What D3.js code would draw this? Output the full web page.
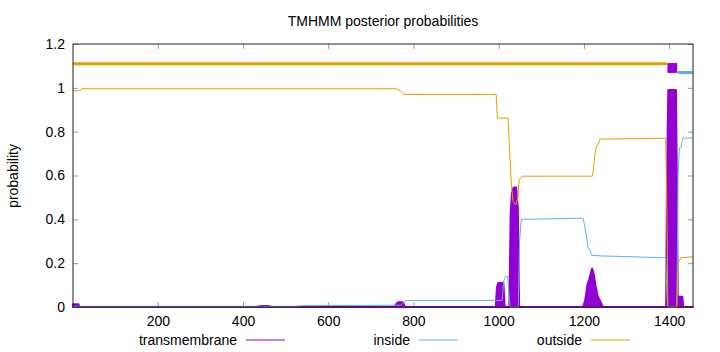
<!DOCTYPE html>
<html><head><meta charset="utf-8">
<script src="https://cdn.jsdelivr.net/npm/d3@7"></script>
<style>body{margin:0;background:#fff}svg{display:block}text{font-family:"Liberation Sans",Arial,sans-serif}</style>
</head><body>
<svg id="c" width="720" height="352"></svg>
<script>
// ---- data ----
const seqLength = 1456;
const xTicks = [200, 400, 600, 800, 1000, 1200, 1400];
const yTicks = [0, 0.2, 0.4, 0.6, 0.8, 1, 1.2];
const seriesNames = ["transmembrane", "inside", "outside"];
// transmembrane posterior [position, probability]
const tmPos = [1,14,16,430,440,460,470,755,760,765,775,780,993,996,999,1011,1014,1025,1028,1031,1035,1041,1045,1048,1198,1203,1208,1213,1219,1223,1227,1232,1240,1244,1393,1395,1398,1416,1418,1420,1431,1433,1456];
const tmVal = [0.012,0.012,0,0,0.004,0.004,0,0,0.015,0.022,0.022,0,0,0.09,0.11,0.11,0,0,0.42,0.52,0.545,0.545,0.45,0,0,0.03,0.1,0.13,0.175,0.15,0.1,0.05,0.02,0,0,0.6,0.99,0.99,0.6,0.047,0.047,0,0];
// inside posterior
const inPos = [1,520,540,770,776,782,1008,1012,1016,1021,1024,1027,1046,1049,1053,1198,1203,1210,1214,1218,1240,1392,1395,1397,1418,1421,1424,1428,1432,1456];
const inVal = [0.003,0.003,0.006,0.008,0.02,0.03,0.03,0.12,0.14,0.14,0.06,0,0,0.3,0.4,0.405,0.36,0.27,0.26,0.236,0.233,0.225,0.05,0,0,0.6,0.726,0.73,0.77,0.772];
// outside posterior
const outPos = [1,18,21,760,770,778,994,997,1022,1026,1030,1034,1040,1045,1048,1055,1220,1222,1226,1229,1233,1238,1392,1395,1397,1418,1421,1428,1456];
const outVal = [0.987,0.987,0.996,0.996,0.985,0.97,0.97,0.862,0.862,0.7,0.55,0.48,0.465,0.5,0.58,0.597,0.597,0.62,0.7,0.73,0.74,0.766,0.77,0.4,0,0,0.2,0.225,0.229];
// predicted topology (segments)
const topoType = ["outside", "TMhelix", "inside"];
const topoStart = [1, 1396, 1420];
const topoEnd = [1395, 1419, 1456];

const colors = {transmembrane:"#9400d3", inside:"#56b4e9", outside:"#e69f00"};
const svg = d3.select("#c");
const L = 73, R = 693, T = 44, B = 307;
const x = d3.scaleLinear().domain([1, seqLength]).range([L, R]);
const y = d3.scaleLinear().domain([0, 1.2]).range([B, T]);

// title
svg.append("text").attr("x", 383).attr("y", 26).attr("text-anchor","middle").attr("font-size",14).text("TMHMM posterior probabilities");
svg.append("text").attr("transform","translate(18,176) rotate(-90)").attr("text-anchor","middle").attr("font-size",14).text("probability");

// axes
const gx = svg.append("g").attr("transform",`translate(0,${B})`)
  .call(d3.axisBottom(x).tickValues(xTicks).tickSize(-5).tickPadding(9).tickFormat(d3.format("d")));
const gxt = svg.append("g").attr("transform",`translate(0,${T})`)
  .call(d3.axisTop(x).tickValues(xTicks).tickSize(-5).tickFormat(""));
const gy = svg.append("g").attr("transform",`translate(${L},0)`)
  .call(d3.axisLeft(y).tickValues(yTicks).tickSize(-5).tickPadding(8).tickFormat(d => d3.format("~g")(d)));
const gyr = svg.append("g").attr("transform",`translate(${R},0)`)
  .call(d3.axisRight(y).tickValues(yTicks).tickSize(-5).tickFormat(""));
[gx,gxt,gy,gyr].forEach(g => {
  g.select(".domain").remove();
  g.selectAll(".tick line").attr("stroke","#999");
  g.selectAll(".tick text").attr("font-size",14).attr("fill","#000").attr("font-family",'"Liberation Sans",Arial,sans-serif');
});

const zip = (p, v) => p.map((d,i) => [d, v[i]]);
const tm = zip(tmPos, tmVal), inside = zip(inPos, inVal), outside = zip(outPos, outVal);

const line = d3.line().x(d => x(d[0])).y(d => y(d[1]));
const area = d3.area().x(d => x(d[0])).y0(y(0)).y1(d => y(d[1]));

// transmembrane as filled impulses
svg.append("path").attr("d", area(tm)).attr("fill", colors.transmembrane)
  .attr("stroke", colors.transmembrane).attr("stroke-width", 2).attr("stroke-linejoin","round");
svg.append("path").attr("d", line(inside)).attr("fill","none").attr("stroke", colors.inside).attr("stroke-width",1);
svg.append("path").attr("d", line(outside)).attr("fill","none").attr("stroke", colors.outside).attr("stroke-width",1);

// topology on top
topoType.forEach((t, i) => {
  if (t === "TMhelix") {
    svg.append("rect").attr("x", x(topoStart[i])).attr("width", x(topoEnd[i]) - x(topoStart[i]))
      .attr("y", y(1.113)).attr("height", y(1.068) - y(1.113)).attr("fill", colors.transmembrane);
  } else {
    const yy = t === "outside" ? 1.11 : 1.07;
    svg.append("line").attr("x1", x(topoStart[i])).attr("x2", x(topoEnd[i]))
      .attr("y1", y(yy)).attr("y2", y(yy)).attr("stroke", colors[t]).attr("stroke-width", 3);
  }
});

// border
svg.append("rect").attr("x",L).attr("y",T).attr("width",R-L).attr("height",B-T).attr("fill","none").attr("stroke","#222").attr("stroke-width",1);

// legend
const legTextEnd = [237, 410, 582];
seriesNames.forEach((n, i) => {
  svg.append("text").attr("x", legTextEnd[i]).attr("y", 345).attr("text-anchor","end").attr("font-size",14).text(n);
  svg.append("line").attr("x1", legTextEnd[i]+9).attr("x2", legTextEnd[i]+48).attr("y1",340).attr("y2",340)
    .attr("stroke", colors[n]).attr("stroke-width",1);
});
</script>
</body></html>
